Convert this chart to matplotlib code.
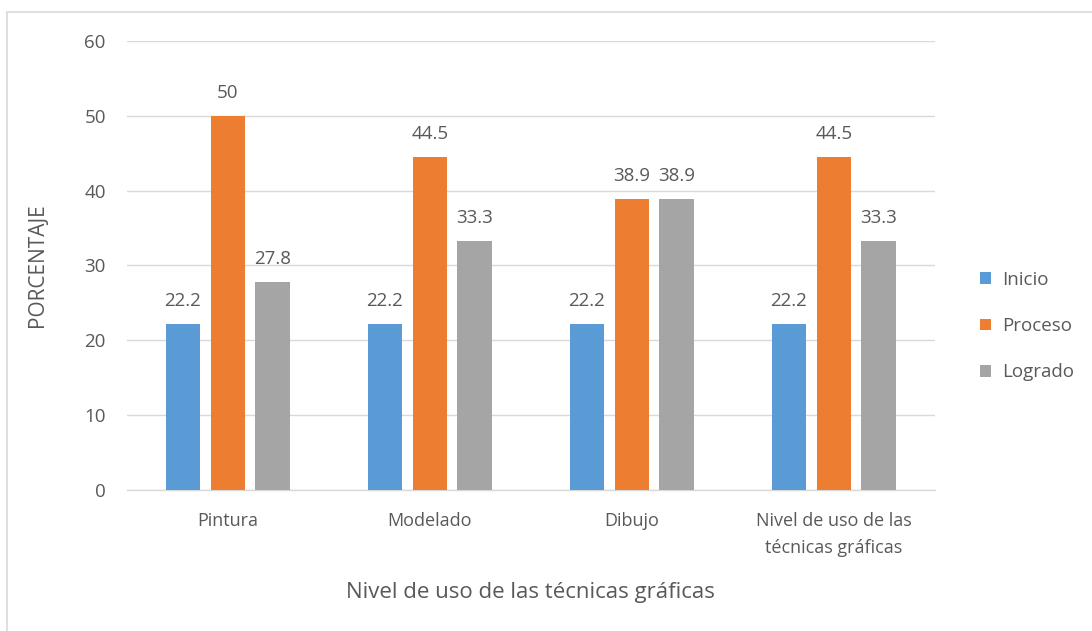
import numpy as np
import matplotlib.pyplot as plt
from matplotlib.patches import Rectangle

categories = ["Pintura", "Modelado", "Dibujo", "Nivel de uso de las\ntécnicas gráficas"]
inicio = [22.2, 22.2, 22.2, 22.2]
proceso = [50, 44.5, 38.9, 44.5]
logrado = [27.8, 33.3, 38.9, 33.3]

series = [("Inicio", inicio, "#5B9BD5"),
          ("Proceso", proceso, "#ED7D31"),
          ("Logrado", logrado, "#A5A5A5")]

plt.rcParams['font.family'] = ['Open Sans', 'DejaVu Sans']
txt = "#595959"

fig = plt.figure(figsize=(10.92, 6.31), dpi=100)
fig.patches.append(Rectangle((7 / 1092, -0.01), 1.0, 1 - 12 / 631 + 0.01,
                             transform=fig.transFigure, fill=False,
                             edgecolor="#D9D9D9", linewidth=1.2))
ax = fig.add_axes([0.116, 0.2235, 0.74, 0.7115])

x = np.arange(len(categories))
width = 0.17
step = 0.222
for i, (name, vals, color) in enumerate(series):
    pos = x + (i - 1) * step
    bars = ax.bar(pos, vals, width, color=color, label=name, zorder=3)
    for b, v in zip(bars, vals):
        ax.annotate(f"{v:g}", (b.get_x() + b.get_width() / 2, v),
                    xytext=(0, 10), textcoords="offset points",
                    ha="center", va="bottom", fontsize=13.5, color=txt)

ax.set_xlim(-0.5, 3.5)
ax.set_ylim(0, 60)
ax.set_yticks(range(0, 61, 10))
ax.set_xticks(x)
ax.set_xticklabels(categories, fontsize=13, color=txt, linespacing=1.6)
ax.tick_params(axis="y", labelsize=13.5, labelcolor=txt, length=0, pad=15)
ax.tick_params(axis="x", length=0, pad=16)
ax.grid(axis="y", color="#D9D9D9", linewidth=1, zorder=0)
for s in ["top", "right", "left"]:
    ax.spines[s].set_visible(False)
ax.spines["bottom"].set_color("#D9D9D9")
ax.spines["bottom"].set_linewidth(1)

ax.set_ylabel("PORCENTAJE", fontsize=15, color=txt, labelpad=26)
ax.set_xlabel("Nivel de uso de las técnicas gráficas", fontsize=16, color=txt, labelpad=18)

ax.legend(loc="center left", bbox_to_anchor=(1.035, 0.365), frameon=False,
          fontsize=13.5, labelcolor=txt, handlelength=0.6, handleheight=0.6,
          labelspacing=1.5, handletextpad=0.6)

plt.savefig("out.png", dpi=100)
